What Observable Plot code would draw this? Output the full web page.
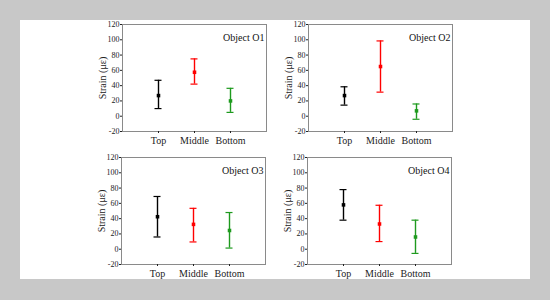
<!DOCTYPE html>
<html>
<head>
<meta charset="utf-8">
<script src="https://cdn.jsdelivr.net/npm/d3@7"></script>
<script src="https://cdn.jsdelivr.net/npm/@observablehq/plot@0.6"></script>
<style>
  html, body { margin: 0; padding: 0; background: #c8c8c8; }
  #wrap { position: relative; width: 550px; height: 300px; background: #c8c8c8; overflow: hidden; }
  #sheet { position: absolute; left: 20px; top: 20px; width: 510px; height: 259px; background: #fff; }
  .panel { position: absolute; }
  .panel svg { background: transparent; overflow: visible; }
  .panel svg, .panel svg text { font-family: "Liberation Serif", "DejaVu Serif", serif !important; }
</style>
</head>
<body>
<div id="wrap"><div id="sheet"></div></div>
<script>
const objects = ["Object O1", "Object O2", "Object O3", "Object O4"];
const positions = ["Top", "Middle", "Bottom"];
const colors = ["#000000", "#ff0000", "#1e9a1e"];
const yTicks = [-20, 0, 20, 40, 60, 80, 100, 120];
const yLabel = "Strain (με)";

const meanO1 = [27, 57.5, 20];
const lowO1  = [10, 42, 5];
const highO1 = [47, 75, 36.5];

const meanO2 = [27, 65, 7];
const lowO2  = [14.5, 31.5, -4];
const highO2 = [38.5, 98.5, 16];

const meanO3 = [42.5, 32.5, 24.5];
const lowO3  = [16, 9.5, 1.5];
const highO3 = [69, 53.5, 48];

const meanO4 = [58, 33, 16];
const lowO4  = [38, 10, -5.5];
const highO4 = [78, 57.5, 38];

const series = [
  [meanO1, lowO1, highO1],
  [meanO2, lowO2, highO2],
  [meanO3, lowO3, highO3],
  [meanO4, lowO4, highO4]
];
const spots = [[72, 14], [258, 14], [71, 147], [257, 147]];

series.forEach(([mean, low, high], k) => {
  const data = positions.map((p, i) => ({pos: p, mean: mean[i], low: low[i], high: high[i], color: colors[i]}));
  const chart = Plot.plot({
    width: 200,
    height: 137,
    marginLeft: 50,
    marginRight: 6,
    marginTop: 10,
    marginBottom: 20,
    style: {fontSize: "8px", color: "#222", background: "transparent"},
    x: {type: "band", domain: positions, paddingInner: 0.95, paddingOuter: 0.975},
    y: {domain: [-20, 120]},
    marks: [
      Plot.frame({stroke: "#8a8a8a", strokeWidth: 1}),
      Plot.axisY({ticks: yTicks, tickSize: 2, tickPadding: 1, tickFormat: d => String(d), fontSize: 8, label: null}),
      Plot.axisY({ticks: [], tickSize: 0, label: yLabel, labelAnchor: "center", labelOffset: 24, labelArrow: "none", fontSize: 10}),
      Plot.axisX({tickSize: 2, tickPadding: 3, label: null, fontSize: 10}),
      Plot.ruleX(data, {x: "pos", y1: "low", y2: "high", stroke: "color", strokeWidth: 1.4}),
      Plot.tickY(data, {x: "pos", y: "low", stroke: "color", strokeWidth: 1.2, insetLeft: -2.5, insetRight: -2.5}),
      Plot.tickY(data, {x: "pos", y: "high", stroke: "color", strokeWidth: 1.2, insetLeft: -2.5, insetRight: -2.5}),
      Plot.dot(data, {x: "pos", y: "mean", fill: "color", symbol: "square", r: 2}),
      Plot.text([objects[k]], {text: d => d, frameAnchor: "top-right", dx: -2, dy: 9, fontSize: 10, fill: "#111"})
    ]
  });
  const div = document.createElement("div");
  div.className = "panel";
  div.style.left = spots[k][0] + "px";
  div.style.top = spots[k][1] + "px";
  div.appendChild(chart);
  document.getElementById("wrap").appendChild(div);
});
</script>
</body>
</html>
